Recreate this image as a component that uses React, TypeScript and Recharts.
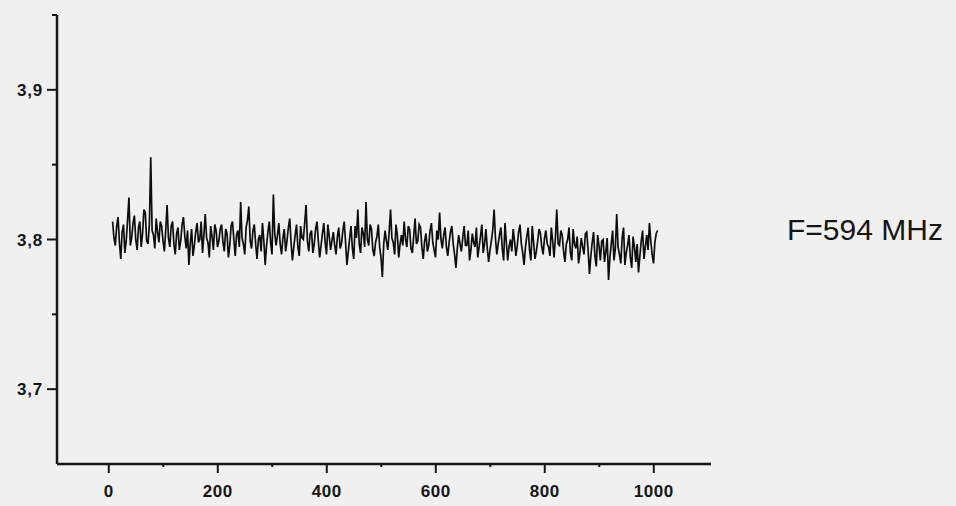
import { Line, LineChart, XAxis, YAxis } from "recharts";

// sample positions along x (sample number)
const SAMPLE_START = 7;
const SAMPLE_STEP = 2.5;

// signal values, one per sample, 7 .. 1007
const SIGNAL = [
  3.812, 3.801, 3.796, 3.809, 3.815, 3.798, 3.787, 3.805, 3.81, 3.791,
  3.799, 3.813, 3.828, 3.796, 3.801, 3.811, 3.816, 3.8, 3.793, 3.808,
  3.812, 3.795, 3.804, 3.82, 3.818, 3.799, 3.797, 3.81, 3.855, 3.806,
  3.803, 3.794, 3.814, 3.805, 3.798, 3.812, 3.809, 3.799, 3.792, 3.806,
  3.823, 3.801, 3.795, 3.809, 3.812, 3.797, 3.79, 3.804, 3.808, 3.793,
  3.799, 3.81, 3.815, 3.802, 3.794, 3.806, 3.783, 3.797, 3.807, 3.789,
  3.796, 3.805, 3.811, 3.798, 3.8, 3.812, 3.791, 3.803, 3.817, 3.801,
  3.798, 3.788, 3.809, 3.802, 3.793, 3.81, 3.806, 3.795, 3.799, 3.807,
  3.81, 3.798, 3.792, 3.807, 3.804, 3.788, 3.796, 3.809, 3.812, 3.8,
  3.789, 3.803, 3.806, 3.795, 3.825, 3.801, 3.797, 3.79, 3.808, 3.813,
  3.822, 3.799, 3.794, 3.806, 3.81, 3.797, 3.787, 3.8, 3.803, 3.792,
  3.811, 3.799, 3.783, 3.796, 3.805, 3.812, 3.798, 3.79, 3.83, 3.804,
  3.796, 3.803, 3.811, 3.797, 3.79, 3.801, 3.807, 3.792, 3.799, 3.808,
  3.814, 3.798, 3.786, 3.795, 3.803, 3.81, 3.795, 3.789, 3.809, 3.801,
  3.8, 3.811, 3.823, 3.799, 3.792, 3.804, 3.806, 3.791, 3.797, 3.807,
  3.812, 3.799, 3.788, 3.796, 3.804, 3.811, 3.798, 3.79, 3.81, 3.802,
  3.793, 3.799, 3.805, 3.796, 3.79, 3.802, 3.808, 3.794, 3.797, 3.806,
  3.812, 3.798, 3.783, 3.792, 3.801, 3.809, 3.794, 3.787, 3.809, 3.801,
  3.82, 3.797, 3.791, 3.808, 3.804, 3.795, 3.825, 3.8, 3.796, 3.81,
  3.807, 3.793, 3.789, 3.798, 3.802, 3.81, 3.795, 3.788, 3.775, 3.797,
  3.806, 3.799, 3.793, 3.805, 3.82, 3.801, 3.798, 3.79, 3.81, 3.803,
  3.788, 3.797, 3.803, 3.796, 3.812, 3.8, 3.795, 3.809, 3.807, 3.794,
  3.791, 3.802, 3.814, 3.797, 3.799, 3.81, 3.808, 3.795, 3.787, 3.799,
  3.804, 3.792, 3.796, 3.806, 3.811, 3.798, 3.793, 3.788, 3.806, 3.8,
  3.818, 3.8, 3.794, 3.803, 3.808, 3.795, 3.789, 3.798, 3.805, 3.809,
  3.797, 3.79, 3.781, 3.794, 3.803, 3.797, 3.792, 3.801, 3.809, 3.796,
  3.796, 3.806, 3.786, 3.793, 3.804, 3.798, 3.795, 3.808, 3.788, 3.795,
  3.802, 3.81, 3.791, 3.797, 3.807, 3.794, 3.785, 3.793, 3.799, 3.806,
  3.82, 3.801, 3.79, 3.797, 3.803, 3.808, 3.794, 3.786, 3.811, 3.798,
  3.786, 3.795, 3.8, 3.792, 3.807, 3.799, 3.789, 3.796, 3.805, 3.81,
  3.797, 3.791, 3.783, 3.795, 3.802, 3.808, 3.793, 3.786, 3.809, 3.798,
  3.787, 3.792, 3.799, 3.807, 3.804, 3.795, 3.79, 3.801, 3.806, 3.797,
  3.795, 3.789, 3.808, 3.799, 3.788, 3.801, 3.82, 3.797, 3.796, 3.806,
  3.803, 3.792, 3.785, 3.797, 3.8, 3.808, 3.791, 3.786, 3.807, 3.797,
  3.794, 3.802, 3.784, 3.791, 3.801, 3.795, 3.79, 3.804, 3.805, 3.793,
  3.777, 3.789, 3.798, 3.805, 3.789, 3.782, 3.803, 3.796, 3.786, 3.799,
  3.8, 3.785, 3.792, 3.801, 3.773, 3.788, 3.797, 3.806, 3.786, 3.794,
  3.817, 3.795, 3.79, 3.784, 3.801, 3.808, 3.783, 3.791, 3.796, 3.803,
  3.788, 3.781, 3.802, 3.795, 3.785, 3.797, 3.778, 3.789, 3.799, 3.806,
  3.787, 3.795, 3.803, 3.793, 3.811, 3.799, 3.79, 3.784, 3.798, 3.804,
  3.806,
];

const X_TICKS = [0, 100, 200, 300, 400, 500, 600, 700, 800, 900, 1000];
const Y_TICKS = [3.7, 3.75, 3.8, 3.85, 3.9, 3.95];
const Y_LABELED = [3.7, 3.8, 3.9];
const FREQ_LABEL = "F=594 MHz";

const INK = "#151515";
const FONT = "'Liberation Sans', Arial, sans-serif";

const data = SIGNAL.map((v, i) => ({ x: SAMPLE_START + SAMPLE_STEP * i, v }));

function XTick(props: any) {
  const { x, y, payload } = props;
  const major = payload.value % 200 === 0;
  return (
    <g>
      <line x1={x} x2={x} y1={y} y2={y + (major ? 9 : 3)} stroke={INK} strokeWidth={2} />
      {major && (
        <text
          x={x}
          y={y + 33}
          textAnchor="middle"
          fontFamily={FONT}
          fontSize={17}
          fontWeight={700}
          letterSpacing={0.5}
          fill={INK}
        >
          {payload.value}
        </text>
      )}
    </g>
  );
}

function YTick(props: any) {
  const { x, y, payload } = props;
  const major = Y_LABELED.some((t) => Math.abs(t - payload.value) < 1e-6);
  return (
    <g>
      <line x1={x - (major ? 10 : 5)} x2={x} y1={y} y2={y} stroke={INK} strokeWidth={2} />
      {major && (
        <text
          x={x - 14}
          y={y + 6}
          textAnchor="end"
          fontFamily={FONT}
          fontSize={17}
          fontWeight={700}
          letterSpacing={0.8}
          fill={INK}
        >
          {payload.value.toFixed(1).replace(".", ",")}
        </text>
      )}
    </g>
  );
}

export default function App() {
  return (
    <div
      style={{
        position: "absolute",
        left: 0,
        top: 0,
        width: 956,
        height: 506,
        background: "#f0f0f0",
      }}
    >
      <LineChart
        width={956}
        height={506}
        data={data}
        margin={{ top: 15, right: 245, bottom: 0, left: 0 }}
      >
        <XAxis
          type="number"
          dataKey="x"
          domain={[-95, 1105]}
          ticks={X_TICKS}
          interval={0}
          height={42}
          tickSize={0}
          tickMargin={0}
          tickLine={false}
          stroke={INK}
          strokeWidth={2.5}
          axisLine={{ stroke: INK, strokeWidth: 2.5 }}
          tick={(p: any) => <XTick {...p} />}
        />
        <YAxis
          type="number"
          domain={[3.65, 3.95]}
          ticks={Y_TICKS}
          interval={0}
          width={57}
          tickSize={0}
          tickMargin={0}
          tickLine={false}
          allowDataOverflow
          stroke={INK}
          strokeWidth={2.5}
          axisLine={{ stroke: INK, strokeWidth: 2.5 }}
          tick={(p: any) => <YTick {...p} />}
        />
        <Line
          type="linear"
          dataKey="v"
          stroke="#0d0d0d"
          strokeWidth={1.7}
          dot={false}
          isAnimationActive={false}
        />
      </LineChart>
      <div
        style={{
          position: "absolute",
          left: 787,
          top: 213,
          fontFamily: FONT,
          fontSize: 30,
          lineHeight: "34px",
          color: INK,
          whiteSpace: "nowrap",
        }}
      >
        {FREQ_LABEL}
      </div>
    </div>
  );
}
